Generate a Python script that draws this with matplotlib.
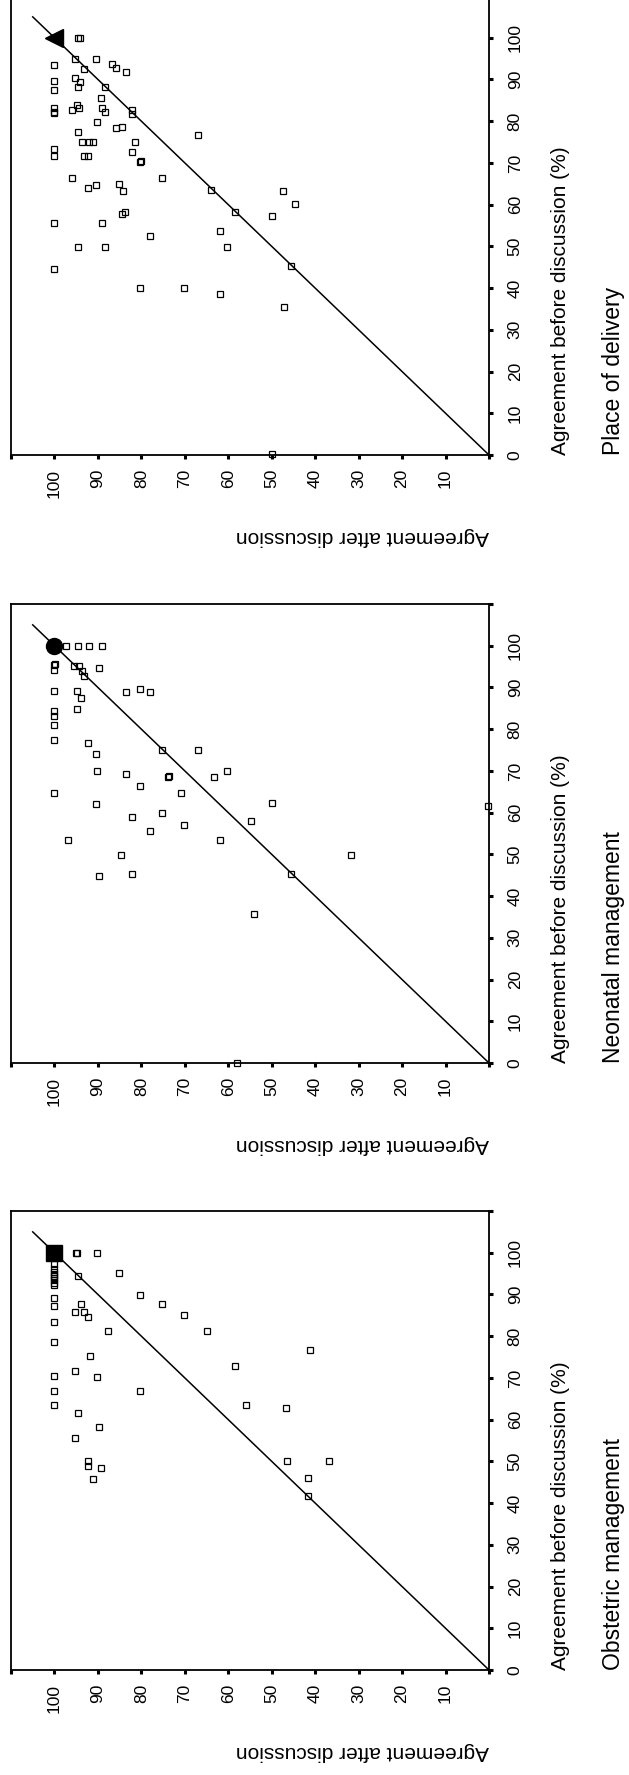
import matplotlib
matplotlib.use("Agg")
import matplotlib.pyplot as plt

plt.rcParams['font.family'] = ['Liberation Sans', 'DejaVu Sans']

TICKS = list(range(0, 111, 10))
BOTTOM_LABELS = ['' if t in (0, 110) else str(t) for t in TICKS]
RIGHT_LABELS = ['' if t == 110 else str(t) for t in TICKS]

titles = ['Place of delivery', 'Neonatal management', 'Obstetric management']
summary_markers = ['<', 'o', 's']
summary_sizes = [13, 11.5, 11]

# agreement after / before discussion (%) per item
place_after = [94.6, 94.2, 95.3, 90.5, 86.8, 85.8, 83.5, 100, 93.1, 100, 95.3, 94.2, 94.5, 88.3,
               100, 89.4, 94.9, 94.4, 100, 100, 100, 96.0, 89.1, 88.3, 82.1, 82.1, 90.2, 85.8,
               84.4, 94.5, 66.9, 93.6, 92.1, 91.2, 81.4, 100, 82.1, 100, 93.2, 92.3, 80.3, 80.1,
               96.0, 75.2, 90.5, 92.3, 85.1, 84.3, 63.9, 47.5, 44.6, 100, 89.1, 83.7, 84.4, 58.4,
               50.0, 78.1, 61.8, 94.5, 88.3, 60.2, 45.6, 100, 80.3, 70.1, 61.8, 47.2, 50.0]
place_before = [100, 100, 95.0, 95.0, 93.8, 92.7, 91.7, 93.4, 92.4, 89.6, 90.3, 89.4, 88.1, 88.2,
                87.4, 85.6, 83.9, 83.2, 83.2, 81.9, 82.2, 82.6, 83.2, 82.1, 82.6, 81.8, 79.8, 78.3,
                78.7, 77.5, 76.8, 75.0, 75.0, 75.0, 75.0, 73.4, 72.7, 71.6, 71.6, 71.6, 70.2, 70.5,
                66.5, 66.5, 64.7, 64.0, 65.0, 63.3, 63.6, 63.3, 60.1, 55.6, 55.6, 58.3, 57.8, 58.3,
                57.2, 52.6, 53.7, 49.8, 49.8, 49.8, 45.3, 44.6, 40.1, 40.1, 38.5, 35.5, 0.3]

neo_after = [97.4, 94.5, 92.0, 89.0, 100, 99.8, 95.5, 94.4, 93.7, 93.1, 100, 89.7, 100, 94.9,
             93.8, 83.5, 80.3, 78.1, 94.9, 100, 100, 100, 100, 92.3, 90.5, 75.2, 66.9, 90.2,
             83.5, 73.8, 73.6, 60.2, 63.2, 80.3, 100, 70.9, 90.5, 50.0, 0.2, 75.2, 82.1, 54.7,
             70.1, 78.1, 96.8, 61.8, 84.6, 31.7, 89.7, 82.1, 45.6, 54.1, 58.0]
neo_before = [100, 100, 100, 100, 95.4, 95.6, 95.1, 95.1, 94.0, 92.8, 94.2, 94.7, 89.2, 89.2,
              87.4, 89.0, 89.6, 89.0, 84.8, 84.4, 83.2, 81.0, 77.5, 76.7, 74.1, 74.9, 74.9, 69.9,
              69.2, 68.5, 68.7, 69.9, 68.5, 66.5, 64.6, 64.6, 62.0, 62.3, 61.5, 60.0, 58.9, 58.1,
              57.0, 55.6, 53.5, 53.5, 49.8, 49.8, 44.8, 45.3, 45.3, 35.8, 0.0]

obs_after = [95.1, 94.8, 90.2, 100, 100, 100, 100, 100, 100, 100, 100, 100, 100, 100, 100,
             100, 100, 100, 100, 94.5, 85.1, 80.3, 75.2, 70.1, 65.0, 93.8, 95.3, 93.1, 92.3,
             87.6, 91.9, 58.4, 41.3, 95.3, 90.2, 80.3, 55.9, 46.7, 94.5, 89.7, 95.3, 92.3, 92.3,
             89.4, 91.2, 46.4, 36.9, 41.6, 41.6]
obs_before = [100, 100, 100, 97.4, 96.0, 95.5, 95.0, 94.5, 94.0, 93.4, 92.8, 92.2, 89.1, 87.3,
              83.4, 78.5, 70.5, 66.8, 63.4, 94.4, 95.1, 89.9, 87.6, 85.0, 81.2, 87.6, 85.8, 85.8,
              84.5, 81.2, 75.2, 72.8, 76.6, 71.7, 70.2, 66.8, 63.4, 62.7, 61.6, 58.2, 55.5, 50.2,
              49.0, 48.3, 45.7, 50.2, 50.2, 46.1, 41.8]

afters = [place_after, neo_after, obs_after]
befores = [place_before, neo_before, obs_before]

W, H = 629, 1775
fig = plt.figure(figsize=(W / 100, H / 100), dpi=100)
tops = [-4, 604, 1211]
ax_w, ax_h = 478, 459

for title, after, before, mk, msz, top in zip(titles, afters, befores,
                                              summary_markers, summary_sizes, tops):
    ax = fig.add_axes([11 / W, 1 - (top + ax_h) / H, ax_w / W, ax_h / H])
    ax.plot([0, 105], [0, 105], color='black', lw=1.1)
    ax.plot(after, before, 's', ms=4, mfc='none', mec='black', mew=0.9, clip_on=False)
    ax.plot([100], [100], mk, ms=msz, color='black')
    ax.set_xlim(110, 0)
    ax.set_ylim(0, 110)

    ax.set_xticks(TICKS)
    ax.set_xticklabels(BOTTOM_LABELS, rotation=90, fontsize=12.5)
    ax.yaxis.tick_right()
    ax.set_yticks(TICKS)
    ax.set_yticklabels(RIGHT_LABELS, rotation=90, fontsize=12.5, va='center')
    ax.tick_params(axis='x', direction='out', length=3, width=2.2, pad=7)
    ax.tick_params(axis='y', direction='out', length=3, width=2.2, pad=10.5)
    for sp in ax.spines.values():
        sp.set_linewidth(1.3)

    ax.text(1.0, -72 / ax_h, 'Agreement after discussion', rotation=180,
            ha='right', va='top', fontsize=15, transform=ax.transAxes)
    ax.text((551 - 11) / ax_w, 0, 'Agreement before discussion (%)', rotation=90,
            ha='left', va='bottom', fontsize=15, transform=ax.transAxes)
    ax.text((602 - 11) / ax_w, 0, title, rotation=90,
            ha='left', va='bottom', fontsize=16.5, transform=ax.transAxes)

fig.savefig('out.png', dpi=100)
